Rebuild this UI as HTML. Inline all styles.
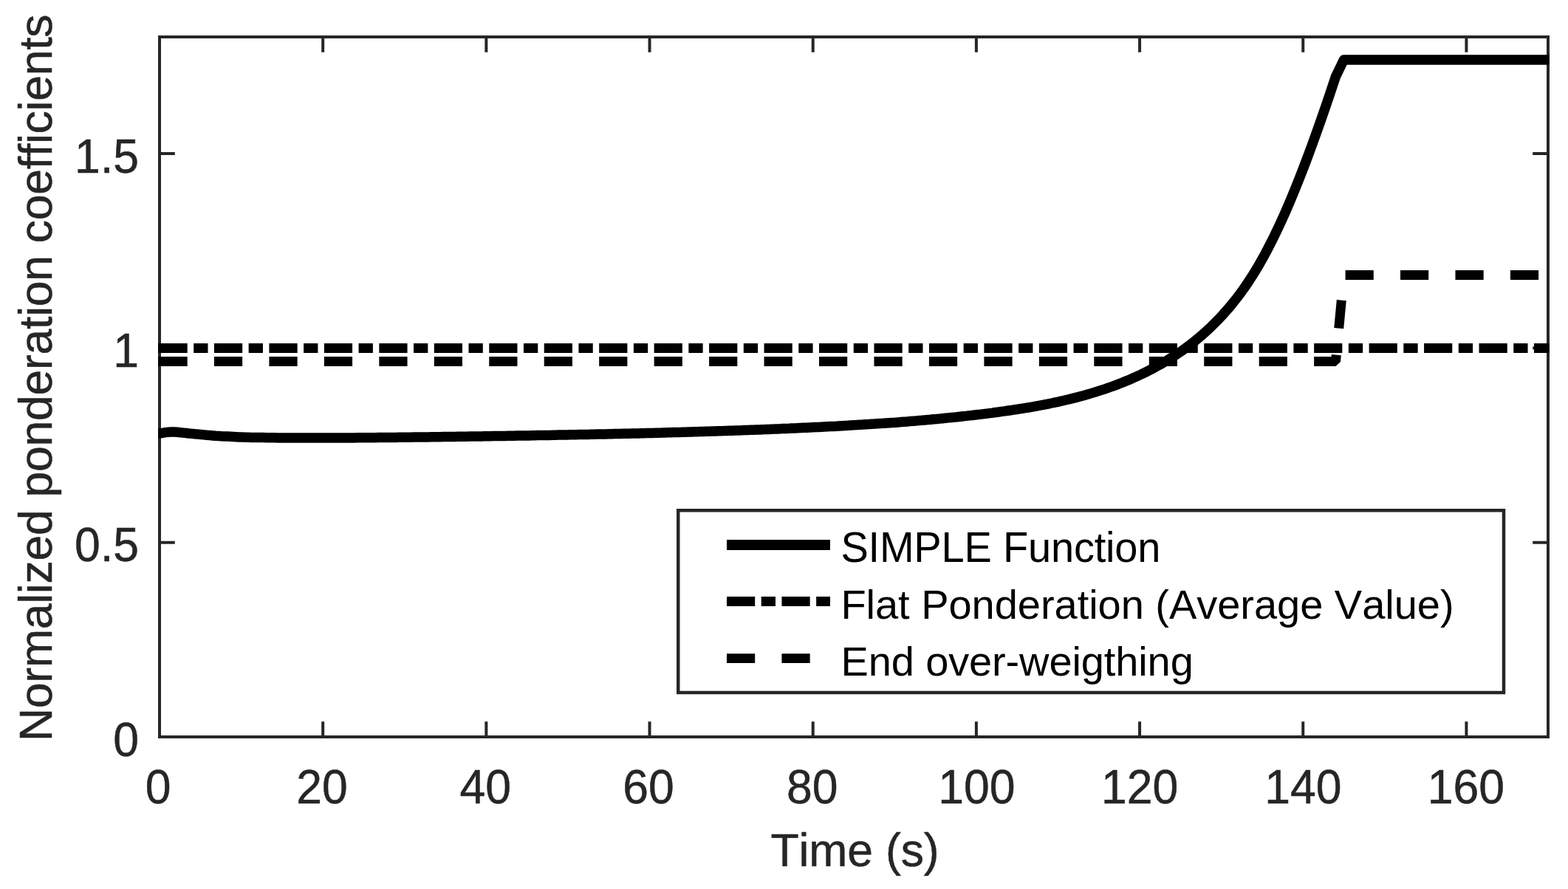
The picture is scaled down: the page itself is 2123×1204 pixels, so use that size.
<!DOCTYPE html>
<html lang="en"><head><meta charset="utf-8"><title>Normalized ponderation coefficients</title>
<style>html,body{margin:0;padding:0;background:#fff}body{width:2123px;height:1204px;overflow:hidden}svg{display:block}text{font-family:"Liberation Sans",Arial,Helvetica,sans-serif;font-kerning:none;font-variant-ligatures:none;white-space:pre}.t{font-size:62.5px;fill:#262626;stroke:#262626;stroke-width:.5px}.l{font-size:56px;fill:#000}</style></head><body>
<svg width="2123" height="1204" viewBox="0 0 2123 1204">
<rect width="2123" height="1204" fill="#fff"/>
<g stroke="#262626" stroke-width="4.0" stroke-linecap="square" fill="none">
<path d="M216.00 998.0 V979.2 M216.00 50.0 V68.8"/>
<path d="M437.18 998.0 V979.2 M437.18 50.0 V68.8"/>
<path d="M658.35 998.0 V979.2 M658.35 50.0 V68.8"/>
<path d="M879.53 998.0 V979.2 M879.53 50.0 V68.8"/>
<path d="M1100.71 998.0 V979.2 M1100.71 50.0 V68.8"/>
<path d="M1321.88 998.0 V979.2 M1321.88 50.0 V68.8"/>
<path d="M1543.06 998.0 V979.2 M1543.06 50.0 V68.8"/>
<path d="M1764.24 998.0 V979.2 M1764.24 50.0 V68.8"/>
<path d="M1985.41 998.0 V979.2 M1985.41 50.0 V68.8"/>
<path d="M216.0 998.00 H234.8 M2096.0 998.00 H2077.2"/>
<path d="M216.0 734.67 H234.8 M2096.0 734.67 H2077.2"/>
<path d="M216.0 471.33 H234.8 M2096.0 471.33 H2077.2"/>
<path d="M216.0 208.00 H234.8 M2096.0 208.00 H2077.2"/>
<rect x="216.0" y="50.0" width="1880.0" height="948.0"/>
</g>
<clipPath id="c"><rect x="214.0" y="48.0" width="1884.0" height="952.0"/></clipPath>
<g clip-path="url(#c)" fill="none" stroke="#000">
<polyline stroke-width="13.5" stroke-linejoin="round" points="213,587.0 216.0,587.0 220.0,586.3 224.0,585.6 228.0,585.2 232.0,585.0 236.0,585.1 240.0,585.3 244.0,585.7 248.0,586.1 252.0,586.5 256.0,587.0 260.0,587.4 264.0,587.8 268.0,588.1 272.0,588.5 276.0,588.9 280.0,589.3 284.0,589.6 288.0,589.9 292.0,590.2 296.0,590.4 300.0,590.7 304.0,590.9 308.0,591.1 312.0,591.3 316.0,591.5 320.0,591.7 324.0,591.9 328.0,592.0 332.0,592.2 336.0,592.3 340.0,592.4 344.0,592.4 348.0,592.5 352.0,592.6 356.0,592.6 360.0,592.7 364.0,592.8 368.0,592.8 372.0,592.8 376.0,592.9 380.0,592.9 384.0,592.9 388.0,592.9 392.0,593.0 396.0,593.0 400.0,593.0 404.0,593.0 408.0,593.0 412.0,593.0 416.0,593.0 420.0,593.0 424.0,593.0 428.0,593.0 432.0,593.0 436.0,593.0 440.0,593.0 444.0,593.0 448.0,593.0 452.0,593.0 456.0,593.0 460.0,593.0 464.0,592.9 468.0,592.9 472.0,592.9 476.0,592.9 480.0,592.9 484.0,592.8 488.0,592.8 492.0,592.8 496.0,592.7 500.0,592.7 504.0,592.7 508.0,592.7 512.0,592.6 516.0,592.6 520.0,592.5 524.0,592.5 528.0,592.5 532.0,592.4 536.0,592.4 540.0,592.3 544.0,592.3 548.0,592.3 552.0,592.2 556.0,592.2 560.0,592.1 564.0,592.1 568.0,592.0 572.0,592.0 576.0,591.9 580.0,591.9 584.0,591.8 588.0,591.8 592.0,591.7 596.0,591.7 600.0,591.6 604.0,591.6 608.0,591.5 612.0,591.5 616.0,591.4 620.0,591.3 624.0,591.3 628.0,591.2 632.0,591.2 636.0,591.1 640.0,591.1 644.0,591.0 648.0,590.9 652.0,590.9 656.0,590.8 660.0,590.8 664.0,590.7 668.0,590.6 672.0,590.6 676.0,590.5 680.0,590.4 684.0,590.4 688.0,590.3 692.0,590.2 696.0,590.2 700.0,590.1 704.0,590.1 708.0,590.0 712.0,589.9 716.0,589.9 720.0,589.8 724.0,589.7 728.0,589.6 732.0,589.6 736.0,589.5 740.0,589.4 744.0,589.4 748.0,589.3 752.0,589.2 756.0,589.1 760.0,589.1 764.0,589.0 768.0,588.9 772.0,588.8 776.0,588.8 780.0,588.7 784.0,588.6 788.0,588.5 792.0,588.5 796.0,588.4 800.0,588.3 804.0,588.2 808.0,588.1 812.0,588.0 816.0,588.0 820.0,587.9 824.0,587.8 828.0,587.7 832.0,587.6 836.0,587.5 840.0,587.4 844.0,587.3 848.0,587.3 852.0,587.2 856.0,587.1 860.0,587.0 864.0,586.9 868.0,586.8 872.0,586.7 876.0,586.6 880.0,586.5 884.0,586.4 888.0,586.3 892.0,586.2 896.0,586.1 900.0,585.9 904.0,585.8 908.0,585.7 912.0,585.6 916.0,585.5 920.0,585.4 924.0,585.3 928.0,585.2 932.0,585.1 936.0,585.0 940.0,584.8 944.0,584.7 948.0,584.6 952.0,584.5 956.0,584.3 960.0,584.2 964.0,584.1 968.0,584.0 972.0,583.8 976.0,583.7 980.0,583.6 984.0,583.4 988.0,583.3 992.0,583.2 996.0,583.0 1000.0,582.9 1004.0,582.8 1008.0,582.6 1012.0,582.5 1016.0,582.3 1020.0,582.2 1024.0,582.0 1028.0,581.9 1032.0,581.7 1036.0,581.6 1040.0,581.4 1044.0,581.2 1048.0,581.1 1052.0,580.9 1056.0,580.8 1060.0,580.6 1064.0,580.4 1068.0,580.3 1072.0,580.1 1076.0,579.9 1080.0,579.7 1084.0,579.5 1088.0,579.3 1092.0,579.2 1096.0,579.0 1100.0,578.8 1104.0,578.6 1108.0,578.4 1112.0,578.2 1116.0,578.0 1120.0,577.8 1124.0,577.6 1128.0,577.4 1132.0,577.2 1136.0,576.9 1140.0,576.7 1144.0,576.5 1148.0,576.3 1152.0,576.0 1156.0,575.8 1160.0,575.6 1164.0,575.3 1168.0,575.1 1172.0,574.8 1176.0,574.6 1180.0,574.3 1184.0,574.1 1188.0,573.8 1192.0,573.5 1196.0,573.3 1200.0,573.0 1204.0,572.7 1208.0,572.4 1212.0,572.2 1216.0,571.9 1220.0,571.6 1224.0,571.3 1228.0,571.0 1232.0,570.6 1236.0,570.3 1240.0,570.0 1244.0,569.6 1248.0,569.3 1252.0,568.9 1256.0,568.6 1260.0,568.2 1264.0,567.8 1268.0,567.5 1272.0,567.1 1276.0,566.7 1280.0,566.3 1284.0,565.9 1288.0,565.5 1292.0,565.1 1296.0,564.7 1300.0,564.2 1304.0,563.8 1308.0,563.4 1312.0,562.9 1316.0,562.5 1320.0,562.0 1324.0,561.5 1328.0,561.1 1332.0,560.6 1336.0,560.1 1340.0,559.6 1344.0,559.1 1348.0,558.5 1352.0,558.0 1356.0,557.4 1360.0,556.9 1364.0,556.3 1368.0,555.7 1372.0,555.1 1376.0,554.5 1380.0,553.9 1384.0,553.3 1388.0,552.6 1392.0,552.0 1396.0,551.3 1400.0,550.6 1404.0,549.8 1408.0,549.1 1412.0,548.4 1416.0,547.6 1420.0,546.8 1424.0,546.0 1428.0,545.1 1432.0,544.3 1436.0,543.4 1440.0,542.5 1444.0,541.5 1448.0,540.6 1452.0,539.6 1456.0,538.6 1460.0,537.6 1464.0,536.5 1468.0,535.4 1472.0,534.3 1476.0,533.1 1480.0,531.9 1484.0,530.7 1488.0,529.4 1492.0,528.1 1496.0,526.8 1500.0,525.4 1504.0,524.0 1508.0,522.6 1512.0,521.1 1516.0,519.5 1520.0,518.0 1524.0,516.3 1528.0,514.7 1532.0,513.0 1536.0,511.2 1540.0,509.4 1544.0,507.5 1548.0,505.6 1552.0,503.7 1556.0,501.6 1560.0,499.6 1564.0,497.4 1568.0,495.2 1572.0,493.0 1576.0,490.7 1580.0,488.3 1584.0,485.8 1588.0,483.3 1592.0,480.7 1596.0,478.0 1600.0,475.2 1604.0,472.4 1608.0,469.4 1612.0,466.4 1616.0,463.3 1620.0,460.1 1624.0,456.7 1628.0,453.3 1632.0,449.7 1636.0,446.1 1640.0,442.3 1644.0,438.3 1648.0,434.3 1652.0,430.1 1656.0,425.8 1660.0,421.3 1664.0,416.7 1668.0,411.9 1672.0,406.9 1676.0,401.8 1680.0,396.4 1684.0,390.9 1688.0,385.1 1692.0,379.1 1696.0,372.9 1700.0,366.4 1704.0,359.7 1708.0,352.7 1712.0,345.4 1716.0,338.0 1720.0,330.2 1724.0,322.3 1728.0,314.0 1732.0,305.6 1736.0,296.9 1740.0,287.9 1744.0,278.7 1748.0,269.3 1752.0,259.7 1756.0,249.8 1760.0,239.7 1764.0,229.5 1768.0,219.0 1772.0,208.3 1776.0,197.5 1780.0,186.5 1784.0,175.3 1788.0,164.0 1792.0,152.5 1796.0,140.9 1800.0,129.1 1804.0,117.2 1808.0,105.1 1808.5,103.6 1819.5,81 2100,81"/>
<path stroke-width="13" d="M213 471.5 H216 M213 489.5 H216"/>
<path stroke-width="13" stroke-dasharray="38.2 8.5 19.3 8.46" d="M215.5 471.5 H2100"/>
<path stroke-width="13" stroke-dasharray="38.2 36.26" stroke-linejoin="bevel" d="M215.5 489.5 H1808.5 L1819.5 372.5 H2100"/>
</g>
<rect x="918.25" y="691.25" width="1117.75" height="246.75" fill="#fff" stroke="#262626" stroke-width="4.5"/>
<g stroke="#000" fill="none">
<path stroke-width="14" d="M984 738 H1124"/>
<path stroke-width="13" stroke-dasharray="38.2 8.5 19.3 8.46" d="M984 814.5 H1124"/>
<path stroke-width="12.6" stroke-dasharray="38.2 36.26" d="M984 891.6 H1124"/>
</g>
<text id="lg1" class="l" transform="translate(1138.40 761.00) scale(1 1.02)" style="letter-spacing:-0.186px">SIMPLE Function</text>
<text id="lg2" class="l" transform="translate(1138.40 838.00) scale(1 1.0)" style="letter-spacing:-0.032px">Flat Ponderation (Average Value)</text>
<text id="lg3" class="l" transform="translate(1138.40 915.00) scale(1 1.0)" style="letter-spacing:-0.118px">End over-weigthing</text>
<text id="x0" class="t" transform="translate(196.72 1087.75) scale(1 1.03)">0</text>
<text id="x20" class="t" transform="translate(401.23 1087.75) scale(1 1.03)">20</text>
<text id="x40" class="t" transform="translate(622.40 1087.75) scale(1 1.03)">40</text>
<text id="x60" class="t" transform="translate(843.18 1087.75) scale(1 1.03)">60</text>
<text id="x80" class="t" transform="translate(1064.96 1087.75) scale(1 1.03)">80</text>
<text id="x100" class="t" transform="translate(1270.26 1087.75) scale(1 1.03)">100</text>
<text id="x120" class="t" transform="translate(1491.03 1087.75) scale(1 1.03)">120</text>
<text id="x140" class="t" transform="translate(1712.31 1087.75) scale(1 1.03)">140</text>
<text id="x160" class="t" transform="translate(1932.79 1087.75) scale(1 1.03)">160</text>
<text id="y15" class="t" transform="translate(101.12 233.90) scale(1 1.03)">1.5</text>
<text id="y10" class="t" transform="translate(153.25 496.70) scale(1 1.03)">1</text>
<text id="y05" class="t" transform="translate(101.12 759.70) scale(1 1.03)">0.5</text>
<text id="y00" class="t" transform="translate(153.25 1024.10) scale(1 1.03)">0</text>
<text id="xl" class="t" transform="translate(1043.50 1172.80) scale(1 1.0)" style="letter-spacing:-0.143px">Time (s)</text>
<text id="yl" class="t" transform="translate(70.20 1004.00) rotate(-90) scale(1 1.0)" style="letter-spacing:-0.265px">Normalized ponderation coefficients</text>
</svg></body></html>
